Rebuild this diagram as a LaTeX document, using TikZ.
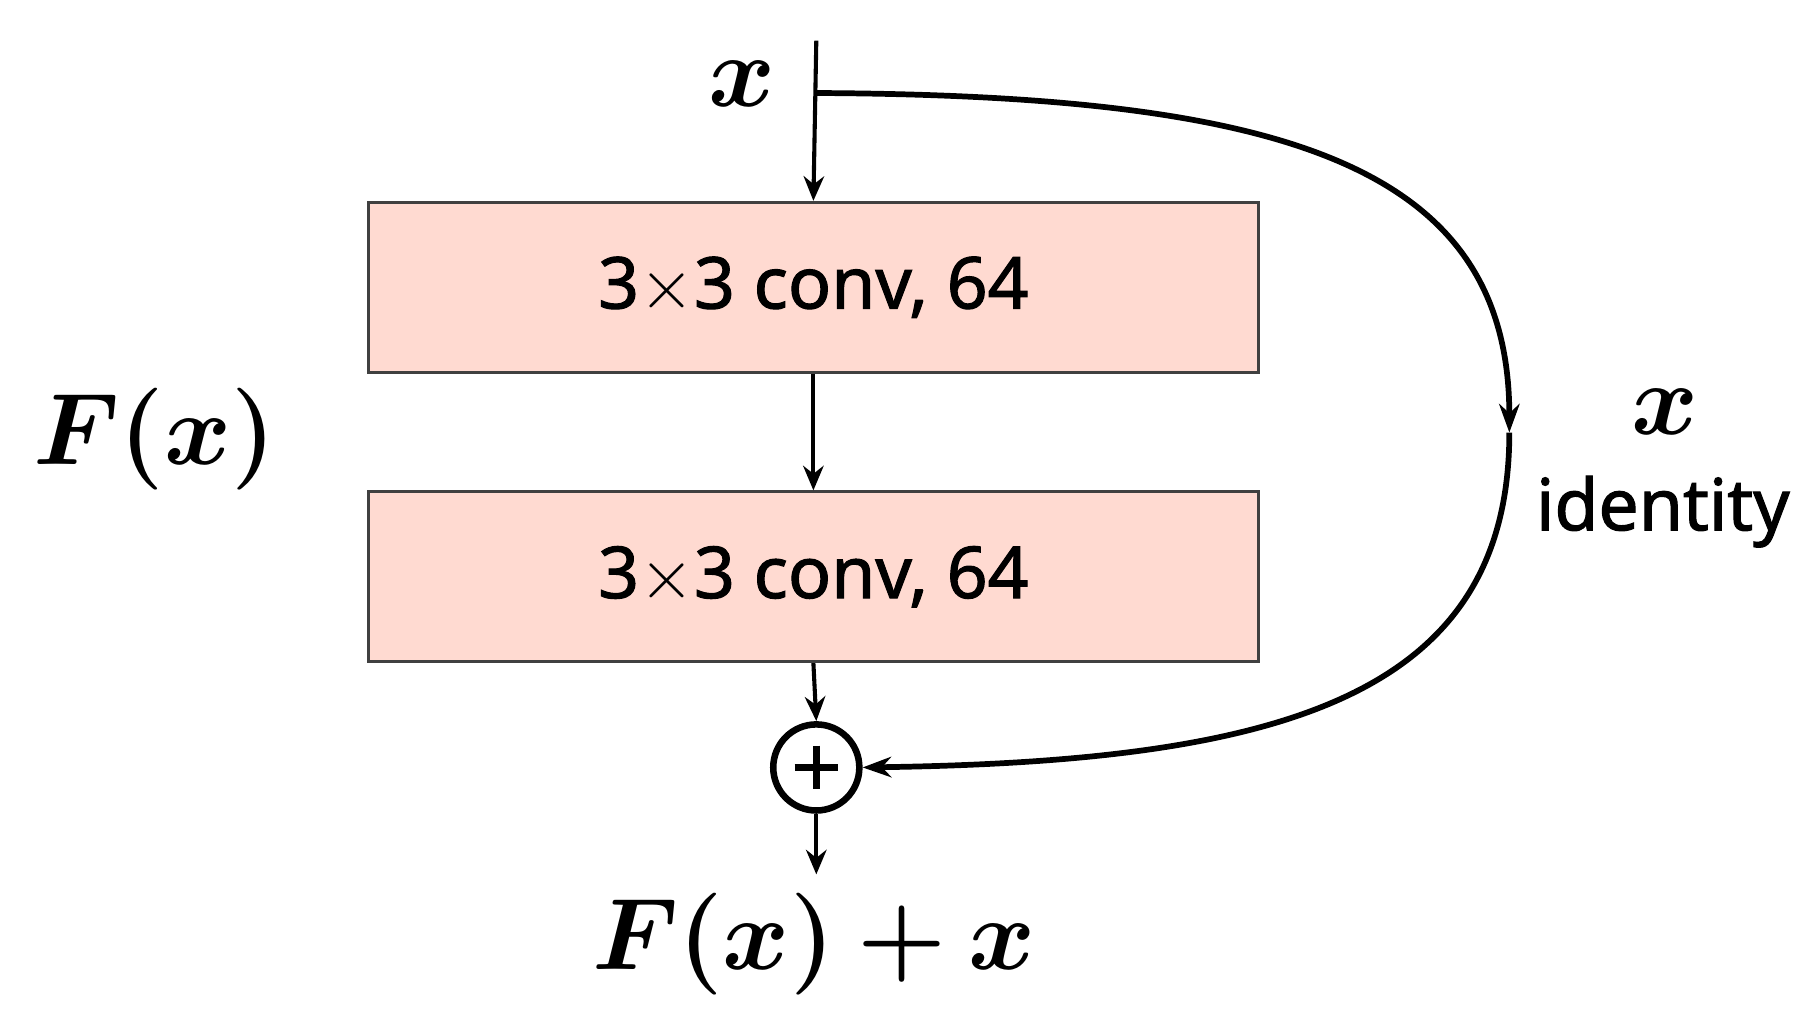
\documentclass[tikz,border=0pt]{standalone}
\usepackage{fontspec}
\usepackage{amsmath,bm}
\setsansfont{Noto Sans}[FakeBold=1.5]
\usetikzlibrary{arrows.meta}
\begin{document}
\begin{tikzpicture}[x=0.01cm,y=-0.01cm,
  conv/.style={draw=black!75,line width=0.7pt,fill=orange!15!pink!50,minimum width=7.65cm,minimum height=1.46cm,inner sep=0,font=\sffamily\fontsize{17.5}{21}\selectfont},
  arr/.style={line width=1pt,-{Stealth[length=6pt,width=5pt]}},
  curv/.style={line width=1.4pt,-{Stealth[length=7pt,width=5pt]}},
  mathlbl/.style={font=\fontsize{29}{34}\selectfont}]
\useasboundingbox (0,0) rectangle (1560,886);
\node[conv] (c1) at (699.5,247) {3$\times$3 conv, 64};
\node[conv] (c2) at (699.5,496) {3$\times$3 conv, 64};
\node[circle,draw,line width=1.6pt,minimum size=0.74cm,inner sep=0] (add) at (702,660) {};
\draw[line width=1.8pt] ([yshift=-6pt]add.north) -- ([yshift=6pt]add.south) ([xshift=6pt]add.west) -- ([xshift=-6pt]add.east);
\coordinate (top) at (702,35);
\coordinate (out) at (702,752);
\coordinate (split) at (702,80);
\coordinate (mid) at (1298,372);
\node[mathlbl] (xin) at (638,72) {$\bm{x}$};
\node[mathlbl] (fx) at (133,378) {$\bm{F(x)}$};
\node[mathlbl] (xr) at (1432,354) {$\bm{x}$};
\node[font=\sffamily\fontsize{17.5}{21}\selectfont] (id) at (1430,440) {identity};
\node[mathlbl] (res) at (700,812) {$\bm{F(x)+x}$};
\draw[arr] (top) -- (c1.north);
\draw[arr] (c1.south) -- (c2.north);
\draw[arr] (c2.south) -- (add.north);
\draw[arr] (add.south) -- (out);
\draw[curv] (split) .. controls (1100,82) and (1298,140) .. (mid);
\draw[curv] (mid) .. controls (1298,600) and (1100,655) .. (add.east);
\end{tikzpicture}
\end{document}
